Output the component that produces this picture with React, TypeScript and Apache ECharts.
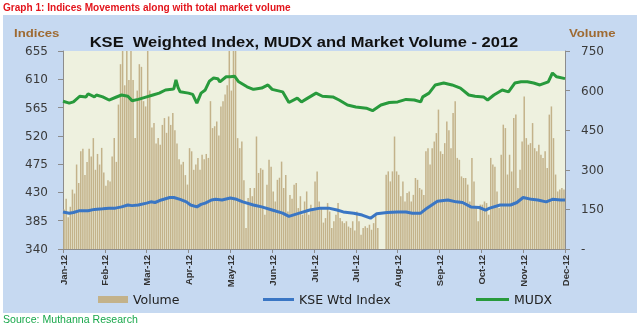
import React, { useEffect, useRef } from "react";
import * as echarts from "echarts";

const xLabels = ["Jan-12", "Feb-12", "Mar-12", "Apr-12", "May-12", "Jun-12", "Jul-12", "Jul-12", "Aug-12", "Sep-12", "Oct-12", "Nov-12", "Dec-12"];
const indexTicks = [340, 385, 430, 475, 520, 565, 610, 655];

// daily market volume (right axis), one per trading day
const volume = [
  150, 190, 120, 160, 225, 210, 320, 250, 370, 380, 280, 330, 380, 350, 420, 300, 360, 320, 383, 290,
  240, 260, 256, 350, 420, 330, 547, 700, 780, 620, 780, 640, 780, 640, 420, 600, 700, 690, 560, 540,
  780, 600, 460, 477, 400, 420, 395, 470, 496, 440, 502, 470, 515, 450, 400, 340, 320, 330, 280, 244,
  382, 370, 300, 320, 345, 300, 357, 340, 360, 345, 560, 458, 465, 483, 430, 540, 560, 585, 620, 780,
  600, 780, 780, 420, 382, 407, 260, 80, 193, 231, 200, 231, 426, 288, 306, 300, 130, 243, 338, 312,
  218, 180, 262, 270, 331, 231, 280, 142, 205, 190, 243, 250, 155, 200, 130, 180, 218, 130, 168, 150,
  256, 294, 180, 155, 100, 117, 174, 142, 80, 105, 130, 174, 117, 105, 98, 105, 85, 80, 105, 70,
  142, 105, 54, 80, 86, 80, 92, 73, 98, 125, 80, 0, 0, 0, 281, 294, 256, 294, 426, 294,
  281, 200, 256, 180, 212, 218, 180, 205, 269, 262, 231, 225, 205, 370, 382, 320, 382, 407, 439, 528,
  370, 360, 401, 483, 450, 382, 515, 560, 345, 338, 275, 269, 269, 244, 180, 345, 256, 155, 105, 168,
  168, 180, 174, 130, 345, 320, 312, 218, 155, 357, 471, 458, 282, 357, 294, 496, 509, 231, 300, 407,
  578, 420, 395, 401, 477, 382, 370, 395, 357, 345, 370, 307, 509, 540, 420, 282, 218, 225, 231, 225,
];

// KSE Weighted Index (left axis): trading-day position and value
const kseDays = [0, 3, 5, 8, 12, 15, 19, 22, 25, 28, 31, 33, 36, 40, 42, 44, 47, 51, 53, 56, 59, 61, 64, 66, 68, 71, 73, 76, 80, 83, 86, 91, 95, 100, 105, 108, 113, 118, 123, 127, 131, 134, 139, 143, 147, 150, 155, 160, 164, 167, 171, 174, 179, 184, 188, 191, 195, 199, 202, 204, 209, 214, 217, 220, 224, 227, 231, 234, 238, 240];
const kseValues = [399, 397, 398, 401, 401, 403, 404, 405, 405, 407, 410, 409, 410, 413, 415, 414, 418, 422, 422, 419, 415, 410, 407, 411, 413, 418, 419, 418, 421, 419, 415, 410, 407, 402, 397, 392, 397, 402, 405, 405, 402, 399, 397, 394, 389, 396, 398, 399, 399, 397, 397, 405, 416, 418, 415, 414, 407, 406, 402, 405, 410, 410, 414, 422, 419, 418, 415, 419, 418, 418];

// MUDX (left axis)
const mudxDays = [0, 3, 5, 8, 11, 12, 15, 16, 19, 22, 25, 28, 31, 33, 36, 40, 43, 46, 49, 52, 53, 54, 55, 56, 60, 62, 64, 66, 68, 70, 72, 74, 75, 78, 80, 82, 84, 88, 91, 95, 98, 100, 105, 108, 112, 114, 116, 121, 124, 129, 132, 136, 140, 145, 148, 152, 156, 160, 164, 168, 171, 172, 175, 178, 182, 186, 190, 194, 197, 201, 203, 206, 210, 213, 216, 219, 222, 225, 228, 232, 234, 236, 240];
const mudxValues = [575, 572, 574, 583, 582, 587, 582, 585, 582, 577, 581, 585, 583, 576, 578, 582, 585, 588, 593, 594, 595, 609, 597, 590, 588, 586, 572, 588, 593, 607, 612, 611, 606, 614, 614, 615, 606, 598, 594, 596, 601, 594, 590, 573, 580, 574, 578, 588, 583, 582, 577, 569, 566, 564, 560, 569, 573, 574, 578, 577, 574, 582, 588, 601, 604, 601, 596, 585, 583, 582, 577, 585, 593, 590, 604, 606, 606, 604, 601, 606, 620, 614, 611];

const AX = "'DejaVu Sans', sans-serif";
const AR = "'Liberation Sans', Arial, sans-serif";

const legendText = { fontFamily: AX, fontSize: 12.5, color: "#222222" };

export default function App() {
  const ref = useRef<HTMLDivElement>(null);
  useEffect(() => {
    if (!ref.current) return;
    const chart = echarts.init(ref.current, null, { renderer: "svg" });
    const option: any = {
      animation: false,
      graphic: [
        { type: "rect", z: -100, shape: { x: 3, y: 15, width: 634, height: 298 }, style: { fill: "#c6d9f1" } },
        { type: "text", x: 3, y: 7, scaleX: 0.96, style: { text: "Graph 1: Indices Movements along with total market volume", font: `bold 10.5px ${AR}`, fill: "#e3151c", align: "left", verticalAlign: "middle" } },
        { type: "text", x: 304, y: 42, scaleX: 1.18, style: { text: "KSE  Weighted Index, MUDX and Market Volume - 2012", font: `bold 14px ${AR}`, fill: "#111111", align: "center", verticalAlign: "middle" } },
        { type: "text", x: 14, y: 33, scaleX: 1.2, style: { text: "Indices", font: `bold 11px ${AR}`, fill: "#9e6a32", align: "left", verticalAlign: "middle" } },
        { type: "text", x: 569, y: 33, scaleX: 1.2, style: { text: "Volume", font: `bold 11px ${AR}`, fill: "#9e6a32", align: "left", verticalAlign: "middle" } },
        { type: "text", x: 3, y: 320, scaleX: 1.06, style: { text: "Source: Muthanna Research", font: `10px ${AR}`, fill: "#19a84b", align: "left", verticalAlign: "middle" } },
      ],
      grid: { left: 63, right: 75, top: 51, bottom: 77, show: true, backgroundColor: "#eef1df", borderWidth: 0 },
      legend: [
        { left: 93, top: 288, itemGap: 0, itemWidth: 30, itemHeight: 7, textStyle: legendText, data: [{ name: "Volume", icon: "rect" }] },
        { left: 258, top: 288, itemGap: 0, itemWidth: 31, itemHeight: 3, textStyle: legendText, data: [{ name: "KSE Wtd Index", icon: "rect" }] },
        { left: 471, top: 288, itemGap: 0, itemWidth: 33, itemHeight: 3, textStyle: legendText, data: [{ name: "MUDX", icon: "rect" }] },
      ],
      xAxis: {
        type: "value",
        min: 0,
        max: 240,
        interval: 20,
        splitLine: { show: false },
        axisLine: { lineStyle: { color: "#8c8c8c" } },
        axisTick: { length: 4, lineStyle: { color: "#8c8c8c" } },
        axisLabel: {
          rotate: 90,
          fontFamily: AR,
          fontSize: 9.5,
          fontWeight: "bold",
          color: "#333333",
          margin: 6,
          formatter: (v: number) => xLabels[Math.round(v / 20)] ?? "",
        },
      },
      yAxis: [
        {
          type: "value",
          min: 340,
          max: 655,
          position: "left",
          splitLine: { show: false },
          axisLine: { show: true, lineStyle: { color: "#8c8c8c" } },
          axisTick: { show: true, length: 5, customValues: indexTicks, lineStyle: { color: "#8c8c8c" } },
          axisLabel: { customValues: indexTicks, fontFamily: AX, fontSize: 12, color: "#3a3a3a", margin: 15 },
        },
        {
          type: "value",
          min: 0,
          max: 750,
          interval: 150,
          position: "right",
          splitLine: { show: false },
          axisLine: { show: true, lineStyle: { color: "#8c8c8c" } },
          axisTick: { show: true, length: 5, lineStyle: { color: "#8c8c8c" } },
          axisLabel: { fontFamily: AX, fontSize: 12, color: "#3a3a3a", margin: 16, formatter: (v: number) => (v === 0 ? "-" : String(v)) },
        },
      ],
      series: [
        {
          name: "Volume",
          type: "bar",
          yAxisIndex: 1,
          barWidth: 1.5,
          clip: true,
          itemStyle: { color: "#c3b28a" },
          data: volume.map((v, i) => [i + 0.5, v]),
        },
        {
          name: "KSE Wtd Index",
          type: "line",
          yAxisIndex: 0,
          symbol: "none",
          lineStyle: { width: 3, color: "#3a76c4" },
          itemStyle: { color: "#3a76c4" },
          data: kseDays.map((d, i) => [d, kseValues[i]]),
        },
        {
          name: "MUDX",
          type: "line",
          yAxisIndex: 0,
          symbol: "none",
          lineStyle: { width: 3, color: "#289a3c" },
          itemStyle: { color: "#289a3c" },
          data: mudxDays.map((d, i) => [d, mudxValues[i]]),
        },
      ],
    };
    chart.setOption(option);
    return () => chart.dispose();
  }, []);
  return <div ref={ref} style={{ position: "fixed", left: 0, top: 0, width: 640, height: 326 }} />;
}
